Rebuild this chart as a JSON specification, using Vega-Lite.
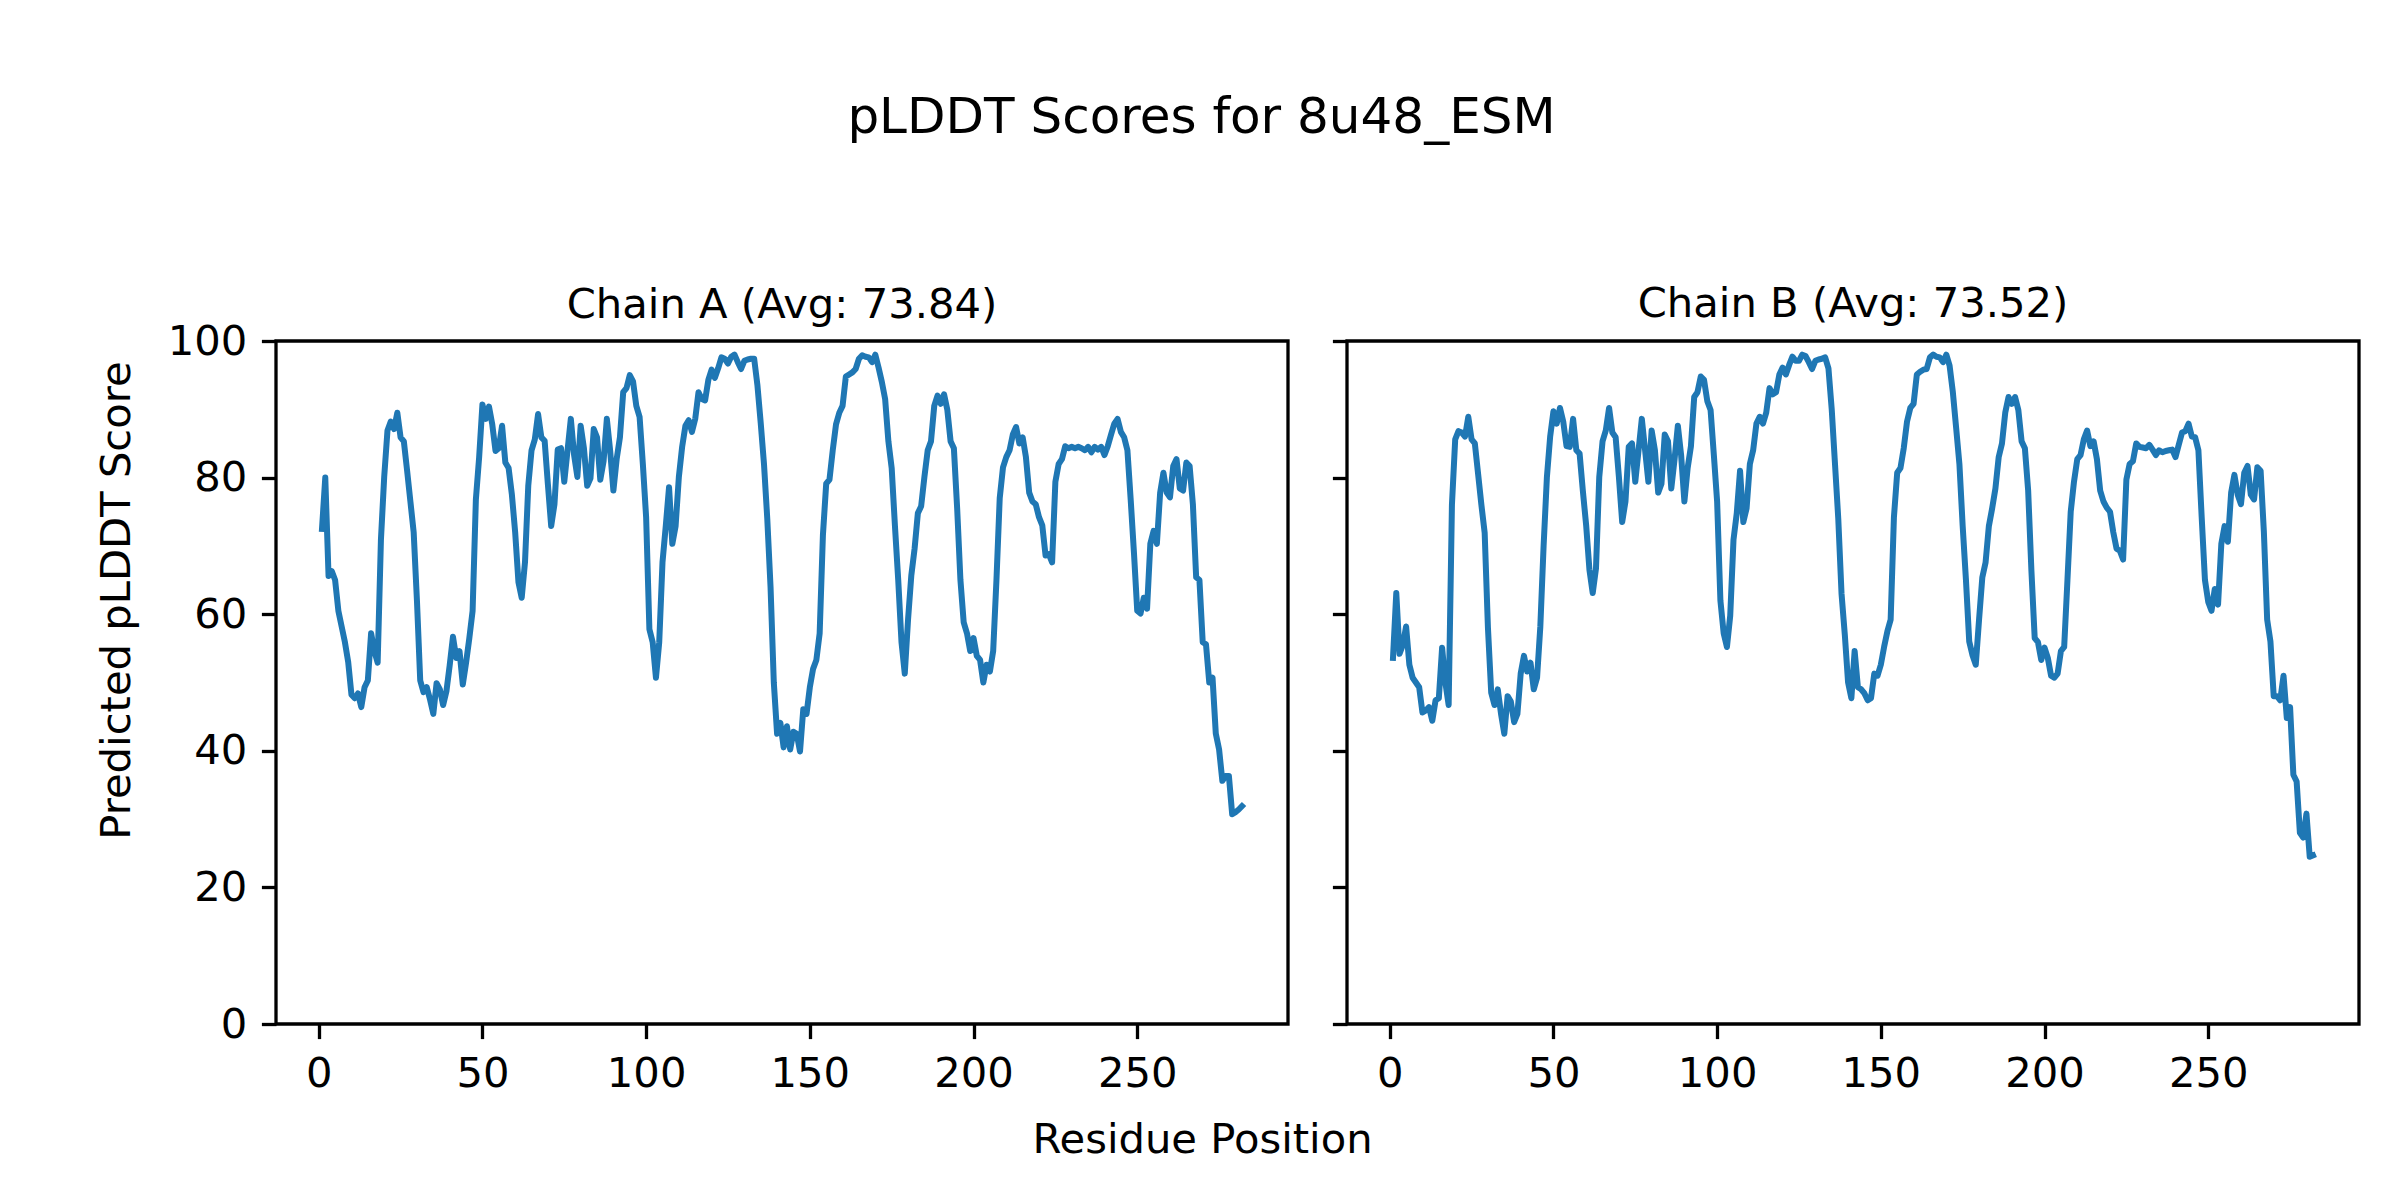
{
  "$schema": "https://vega.github.io/schema/vega-lite/v6.json",
  "background": "white",
  "padding": {"left": 94, "top": 93, "right": 0, "bottom": 0},
  "bounds": "flush",
  "spacing": 59,
  "config": {
    "view": {"stroke": "black", "strokeWidth": 3.3},
    "axis": {"grid": false, "domain": false, "ticks": true, "tickColor": "black", "tickWidth": 3.3, "tickSize": 14.6, "labelFont": "DejaVu Sans", "labelFontSize": 41.7, "labelColor": "black", "labelPadding": 14.6, "titleFont": "DejaVu Sans", "titleFontSize": 41.7, "titleFontWeight": "normal", "titleColor": "black"},
    "title": {"font": "DejaVu Sans", "fontWeight": "normal", "color": "black"}
  },
  "title": {"text": "pLDDT Scores for 8u48_ESM", "fontSize": 50, "anchor": "middle", "baseline": "alphabetic", "offset": 99, "dx": -26},
  "datasets": {
    "chainA": [
{"residue":1,"plddt":72.5},{"residue":2,"plddt":80},{"residue":3,"plddt":65.6},{"residue":4,"plddt":66.3},{"residue":5,"plddt":65.0},{"residue":6,"plddt":60.5},{"residue":7,"plddt":58.2},{"residue":8,"plddt":55.9},{"residue":9,"plddt":53},{"residue":10,"plddt":48.2},
{"residue":11,"plddt":47.7},{"residue":12,"plddt":48.4},{"residue":13,"plddt":46.4},{"residue":14,"plddt":49.3},{"residue":15,"plddt":50.3},{"residue":16,"plddt":57.2},{"residue":17,"plddt":54.6},{"residue":18,"plddt":52.9},{"residue":19,"plddt":70.9},{"residue":20,"plddt":80.1},
{"residue":21,"plddt":86.9},{"residue":22,"plddt":88.2},{"residue":23,"plddt":87.1},{"residue":24,"plddt":89.5},{"residue":25,"plddt":85.9},{"residue":26,"plddt":85.3},{"residue":27,"plddt":81},{"residue":28,"plddt":76.5},{"residue":29,"plddt":72},{"residue":30,"plddt":62},
{"residue":31,"plddt":50.3},{"residue":32,"plddt":48.6},{"residue":33,"plddt":49.3},{"residue":34,"plddt":47.5},{"residue":35,"plddt":45.4},{"residue":36,"plddt":49.9},{"residue":37,"plddt":49.0},{"residue":38,"plddt":46.7},{"residue":39,"plddt":48.7},{"residue":40,"plddt":52.5},
{"residue":41,"plddt":56.7},{"residue":42,"plddt":53.6},{"residue":43,"plddt":54.6},{"residue":44,"plddt":49.7},{"residue":45,"plddt":52.9},{"residue":46,"plddt":56.5},{"residue":47,"plddt":60.5},{"residue":48,"plddt":76.8},{"residue":49,"plddt":83},{"residue":50,"plddt":90.7},
{"residue":51,"plddt":88.6},{"residue":52,"plddt":90.4},{"residue":53,"plddt":87.8},{"residue":54,"plddt":83.9},{"residue":55,"plddt":84.3},{"residue":56,"plddt":87.6},{"residue":57,"plddt":82.2},{"residue":58,"plddt":81.4},{"residue":59,"plddt":77.5},{"residue":60,"plddt":72},
{"residue":61,"plddt":64.7},{"residue":62,"plddt":62.4},{"residue":63,"plddt":67.6},{"residue":64,"plddt":78.8},{"residue":65,"plddt":84},{"residue":66,"plddt":85.6},{"residue":67,"plddt":89.3},{"residue":68,"plddt":85.9},{"residue":69,"plddt":85.4},{"residue":70,"plddt":79},
{"residue":71,"plddt":72.9},{"residue":72,"plddt":76.1},{"residue":73,"plddt":84.1},{"residue":74,"plddt":84.3},{"residue":75,"plddt":79.4},{"residue":76,"plddt":84},{"residue":77,"plddt":88.6},{"residue":78,"plddt":83.3},{"residue":79,"plddt":80.1},{"residue":80,"plddt":87.6},
{"residue":81,"plddt":84.3},{"residue":82,"plddt":78.8},{"residue":83,"plddt":79.9},{"residue":84,"plddt":87.1},{"residue":85,"plddt":85.9},{"residue":86,"plddt":79.7},{"residue":87,"plddt":82.4},{"residue":88,"plddt":88.6},{"residue":89,"plddt":84},{"residue":90,"plddt":78.1},
{"residue":91,"plddt":82.7},{"residue":92,"plddt":85.9},{"residue":93,"plddt":92.5},{"residue":94,"plddt":93.1},{"residue":95,"plddt":95},{"residue":96,"plddt":94.1},{"residue":97,"plddt":90.5},{"residue":98,"plddt":88.9},{"residue":99,"plddt":82},{"residue":100,"plddt":74.2},
{"residue":101,"plddt":57.8},{"residue":102,"plddt":55.9},{"residue":103,"plddt":50.7},{"residue":104,"plddt":55.9},{"residue":105,"plddt":67.6},{"residue":106,"plddt":72.9},{"residue":107,"plddt":78.6},{"residue":108,"plddt":70.3},{"residue":109,"plddt":72.9},{"residue":110,"plddt":80.1},
{"residue":111,"plddt":84.5},{"residue":112,"plddt":87.6},{"residue":113,"plddt":88.4},{"residue":114,"plddt":86.7},{"residue":115,"plddt":88.6},{"residue":116,"plddt":92.5},{"residue":117,"plddt":91.5},{"residue":118,"plddt":91.3},{"residue":119,"plddt":94.3},{"residue":120,"plddt":95.8},
{"residue":121,"plddt":94.6},{"residue":122,"plddt":96},{"residue":123,"plddt":97.6},{"residue":124,"plddt":97.4},{"residue":125,"plddt":96.7},{"residue":126,"plddt":97.7},{"residue":127,"plddt":98},{"residue":128,"plddt":96.9},{"residue":129,"plddt":95.9},{"residue":130,"plddt":97.1},
{"residue":131,"plddt":97.3},{"residue":132,"plddt":97.4},{"residue":133,"plddt":97.4},{"residue":134,"plddt":93.5},{"residue":135,"plddt":88},{"residue":136,"plddt":82},{"residue":137,"plddt":74},{"residue":138,"plddt":64},{"residue":139,"plddt":50},{"residue":140,"plddt":42.5},
{"residue":141,"plddt":44.1},{"residue":142,"plddt":40.5},{"residue":143,"plddt":43.6},{"residue":144,"plddt":40.2},{"residue":145,"plddt":42.8},{"residue":146,"plddt":42.5},{"residue":147,"plddt":39.9},{"residue":148,"plddt":46.1},{"residue":149,"plddt":45.4},{"residue":150,"plddt":49.3},
{"residue":151,"plddt":52},{"residue":152,"plddt":53.3},{"residue":153,"plddt":57.2},{"residue":154,"plddt":71.6},{"residue":155,"plddt":79.1},{"residue":156,"plddt":79.7},{"residue":157,"plddt":84},{"residue":158,"plddt":87.8},{"residue":159,"plddt":89.5},{"residue":160,"plddt":90.5},
{"residue":161,"plddt":94.8},{"residue":162,"plddt":95.1},{"residue":163,"plddt":95.4},{"residue":164,"plddt":95.9},{"residue":165,"plddt":97.4},{"residue":166,"plddt":97.9},{"residue":167,"plddt":97.7},{"residue":168,"plddt":97.6},{"residue":169,"plddt":96.9},{"residue":170,"plddt":98},
{"residue":171,"plddt":96.1},{"residue":172,"plddt":94},{"residue":173,"plddt":91.5},{"residue":174,"plddt":85.3},{"residue":175,"plddt":81.4},{"residue":176,"plddt":72.9},{"residue":177,"plddt":65},{"residue":178,"plddt":55.9},{"residue":179,"plddt":51.3},{"residue":180,"plddt":59.2},
{"residue":181,"plddt":65.7},{"residue":182,"plddt":69.6},{"residue":183,"plddt":74.8},{"residue":184,"plddt":75.8},{"residue":185,"plddt":80.1},{"residue":186,"plddt":84},{"residue":187,"plddt":85.3},{"residue":188,"plddt":90.5},{"residue":189,"plddt":92},{"residue":190,"plddt":90.8},
{"residue":191,"plddt":92.2},{"residue":192,"plddt":89.9},{"residue":193,"plddt":85.3},{"residue":194,"plddt":84.3},{"residue":195,"plddt":75.5},{"residue":196,"plddt":65},{"residue":197,"plddt":58.8},{"residue":198,"plddt":57.2},{"residue":199,"plddt":54.6},{"residue":200,"plddt":56.5},
{"residue":201,"plddt":53.9},{"residue":202,"plddt":53.3},{"residue":203,"plddt":50},{"residue":204,"plddt":52.6},{"residue":205,"plddt":51.6},{"residue":206,"plddt":54.6},{"residue":207,"plddt":65},{"residue":208,"plddt":77},{"residue":209,"plddt":81.5},{"residue":210,"plddt":83},
{"residue":211,"plddt":84},{"residue":212,"plddt":86.3},{"residue":213,"plddt":87.4},{"residue":214,"plddt":85},{"residue":215,"plddt":85.9},{"residue":216,"plddt":83},{"residue":217,"plddt":77.8},{"residue":218,"plddt":76.5},{"residue":219,"plddt":76.1},{"residue":220,"plddt":74.2},
{"residue":221,"plddt":73},{"residue":222,"plddt":68.6},{"residue":223,"plddt":68.8},{"residue":224,"plddt":67.6},{"residue":225,"plddt":79.4},{"residue":226,"plddt":82},{"residue":227,"plddt":82.7},{"residue":228,"plddt":84.6},{"residue":229,"plddt":84.3},{"residue":230,"plddt":84.5},
{"residue":231,"plddt":84.3},{"residue":232,"plddt":84.5},{"residue":233,"plddt":84.3},{"residue":234,"plddt":84},{"residue":235,"plddt":84.5},{"residue":236,"plddt":83.7},{"residue":237,"plddt":84.5},{"residue":238,"plddt":84.1},{"residue":239,"plddt":84.5},{"residue":240,"plddt":83.3},
{"residue":241,"plddt":84.6},{"residue":242,"plddt":86.3},{"residue":243,"plddt":87.9},{"residue":244,"plddt":88.6},{"residue":245,"plddt":86.7},{"residue":246,"plddt":85.9},{"residue":247,"plddt":84},{"residue":248,"plddt":76.8},{"residue":249,"plddt":69},{"residue":250,"plddt":60.5},
{"residue":251,"plddt":60.1},{"residue":252,"plddt":62.4},{"residue":253,"plddt":60.8},{"residue":254,"plddt":70.3},{"residue":255,"plddt":72.2},{"residue":256,"plddt":70.3},{"residue":257,"plddt":77.8},{"residue":258,"plddt":80.7},{"residue":259,"plddt":77.8},{"residue":260,"plddt":77.1},
{"residue":261,"plddt":81.7},{"residue":262,"plddt":82.7},{"residue":263,"plddt":78.4},{"residue":264,"plddt":78.1},{"residue":265,"plddt":82.2},{"residue":266,"plddt":81.7},{"residue":267,"plddt":76.1},{"residue":268,"plddt":65.4},{"residue":269,"plddt":65},{"residue":270,"plddt":55.9},
{"residue":271,"plddt":55.6},{"residue":272,"plddt":50},{"residue":273,"plddt":50.7},{"residue":274,"plddt":42.5},{"residue":275,"plddt":40.2},{"residue":276,"plddt":35.6},{"residue":277,"plddt":36.3},{"residue":278,"plddt":36.3},{"residue":279,"plddt":30.7},{"residue":280,"plddt":31},
{"residue":281,"plddt":31.4},{"residue":282,"plddt":31.9}
    ],
    "chainB": [
{"residue":1,"plddt":53.6},{"residue":2,"plddt":63.1},{"residue":3,"plddt":54.2},{"residue":4,"plddt":55.5},{"residue":5,"plddt":58.2},{"residue":6,"plddt":52.6},{"residue":7,"plddt":50.7},{"residue":8,"plddt":50},{"residue":9,"plddt":49.3},{"residue":10,"plddt":45.6},
{"residue":11,"plddt":45.9},{"residue":12,"plddt":46.4},{"residue":13,"plddt":44.4},{"residue":14,"plddt":47.4},{"residue":15,"plddt":47.7},{"residue":16,"plddt":55.1},{"residue":17,"plddt":50},{"residue":18,"plddt":46.7},{"residue":19,"plddt":76},{"residue":20,"plddt":85.6},
{"residue":21,"plddt":86.8},{"residue":22,"plddt":86.6},{"residue":23,"plddt":86},{"residue":24,"plddt":88.9},{"residue":25,"plddt":85.6},{"residue":26,"plddt":85},{"residue":27,"plddt":80.5},{"residue":28,"plddt":76},{"residue":29,"plddt":71.9},{"residue":30,"plddt":58},
{"residue":31,"plddt":48.5},{"residue":32,"plddt":46.7},{"residue":33,"plddt":49},{"residue":34,"plddt":45.4},{"residue":35,"plddt":42.5},{"residue":36,"plddt":48},{"residue":37,"plddt":47.2},{"residue":38,"plddt":44.2},{"residue":39,"plddt":45.4},{"residue":40,"plddt":51.3},
{"residue":41,"plddt":53.9},{"residue":42,"plddt":51.6},{"residue":43,"plddt":52.9},{"residue":44,"plddt":49},{"residue":45,"plddt":50.7},{"residue":46,"plddt":58.2},{"residue":47,"plddt":70},{"residue":48,"plddt":80},{"residue":49,"plddt":86},{"residue":50,"plddt":89.7},
{"residue":51,"plddt":87.9},{"residue":52,"plddt":90.2},{"residue":53,"plddt":88.2},{"residue":54,"plddt":84.6},{"residue":55,"plddt":84.5},{"residue":56,"plddt":88.6},{"residue":57,"plddt":84},{"residue":58,"plddt":83.5},{"residue":59,"plddt":78},{"residue":60,"plddt":73},
{"residue":61,"plddt":66.5},{"residue":62,"plddt":63.1},{"residue":63,"plddt":66.7},{"residue":64,"plddt":80.1},{"residue":65,"plddt":85.3},{"residue":66,"plddt":86.9},{"residue":67,"plddt":90.2},{"residue":68,"plddt":86.6},{"residue":69,"plddt":85.9},{"residue":70,"plddt":80.1},
{"residue":71,"plddt":73.5},{"residue":72,"plddt":76.5},{"residue":73,"plddt":84.5},{"residue":74,"plddt":85},{"residue":75,"plddt":79.4},{"residue":76,"plddt":84},{"residue":77,"plddt":88.6},{"residue":78,"plddt":84},{"residue":79,"plddt":79.4},{"residue":80,"plddt":86.9},
{"residue":81,"plddt":84},{"residue":82,"plddt":77.8},{"residue":83,"plddt":79.1},{"residue":84,"plddt":86.3},{"residue":85,"plddt":85.3},{"residue":86,"plddt":78.4},{"residue":87,"plddt":82.7},{"residue":88,"plddt":87.6},{"residue":89,"plddt":83.3},{"residue":90,"plddt":76.5},
{"residue":91,"plddt":81.4},{"residue":92,"plddt":84.6},{"residue":93,"plddt":91.8},{"residue":94,"plddt":92.5},{"residue":95,"plddt":94.8},{"residue":96,"plddt":94.3},{"residue":97,"plddt":91.2},{"residue":98,"plddt":89.9},{"residue":99,"plddt":83.3},{"residue":100,"plddt":76.5},
{"residue":101,"plddt":62},{"residue":102,"plddt":57.2},{"residue":103,"plddt":55.2},{"residue":104,"plddt":59.8},{"residue":105,"plddt":70.9},{"residue":106,"plddt":74.8},{"residue":107,"plddt":81},{"residue":108,"plddt":73.5},{"residue":109,"plddt":75.5},{"residue":110,"plddt":82},
{"residue":111,"plddt":84},{"residue":112,"plddt":87.9},{"residue":113,"plddt":88.9},{"residue":114,"plddt":87.9},{"residue":115,"plddt":89.5},{"residue":116,"plddt":93.1},{"residue":117,"plddt":92.2},{"residue":118,"plddt":92.5},{"residue":119,"plddt":95.1},{"residue":120,"plddt":96.1},
{"residue":121,"plddt":95.1},{"residue":122,"plddt":96.5},{"residue":123,"plddt":97.7},{"residue":124,"plddt":97.1},{"residue":125,"plddt":97.1},{"residue":126,"plddt":98},{"residue":127,"plddt":97.8},{"residue":128,"plddt":96.9},{"residue":129,"plddt":95.9},{"residue":130,"plddt":97.1},
{"residue":131,"plddt":97.3},{"residue":132,"plddt":97.4},{"residue":133,"plddt":97.6},{"residue":134,"plddt":96},{"residue":135,"plddt":90},{"residue":136,"plddt":82},{"residue":137,"plddt":74},{"residue":138,"plddt":63},{"residue":139,"plddt":57},{"residue":140,"plddt":50},
{"residue":141,"plddt":47.7},{"residue":142,"plddt":54.6},{"residue":143,"plddt":49.3},{"residue":144,"plddt":49},{"residue":145,"plddt":48.4},{"residue":146,"plddt":47.4},{"residue":147,"plddt":47.7},{"residue":148,"plddt":51.3},{"residue":149,"plddt":51},{"residue":150,"plddt":52.6},
{"residue":151,"plddt":55.2},{"residue":152,"plddt":57.5},{"residue":153,"plddt":59.2},{"residue":154,"plddt":74.2},{"residue":155,"plddt":80.7},{"residue":156,"plddt":81.4},{"residue":157,"plddt":84.3},{"residue":158,"plddt":88.2},{"residue":159,"plddt":90.2},{"residue":160,"plddt":90.8},
{"residue":161,"plddt":95.1},{"residue":162,"plddt":95.5},{"residue":163,"plddt":95.8},{"residue":164,"plddt":95.9},{"residue":165,"plddt":97.6},{"residue":166,"plddt":98},{"residue":167,"plddt":97.7},{"residue":168,"plddt":97.6},{"residue":169,"plddt":96.9},{"residue":170,"plddt":98},
{"residue":171,"plddt":96.4},{"residue":172,"plddt":92.5},{"residue":173,"plddt":87.3},{"residue":174,"plddt":82},{"residue":175,"plddt":72.9},{"residue":176,"plddt":65},{"residue":177,"plddt":56},{"residue":178,"plddt":54},{"residue":179,"plddt":52.6},{"residue":180,"plddt":59.2},
{"residue":181,"plddt":65.4},{"residue":182,"plddt":67.6},{"residue":183,"plddt":72.9},{"residue":184,"plddt":75.5},{"residue":185,"plddt":78.4},{"residue":186,"plddt":83},{"residue":187,"plddt":85},{"residue":188,"plddt":89.5},{"residue":189,"plddt":91.8},{"residue":190,"plddt":90.8},
{"residue":191,"plddt":91.8},{"residue":192,"plddt":89.9},{"residue":193,"plddt":85.3},{"residue":194,"plddt":84.3},{"residue":195,"plddt":78.1},{"residue":196,"plddt":66.3},{"residue":197,"plddt":56.5},{"residue":198,"plddt":55.9},{"residue":199,"plddt":53.3},{"residue":200,"plddt":55.1},
{"residue":201,"plddt":53.6},{"residue":202,"plddt":51},{"residue":203,"plddt":50.7},{"residue":204,"plddt":51.3},{"residue":205,"plddt":54.6},{"residue":206,"plddt":55.2},{"residue":207,"plddt":65},{"residue":208,"plddt":75},{"residue":209,"plddt":79.4},{"residue":210,"plddt":82.7},
{"residue":211,"plddt":83.3},{"residue":212,"plddt":85.6},{"residue":213,"plddt":86.9},{"residue":214,"plddt":84.6},{"residue":215,"plddt":85.3},{"residue":216,"plddt":82.7},{"residue":217,"plddt":78.1},{"residue":218,"plddt":76.5},{"residue":219,"plddt":75.6},{"residue":220,"plddt":75},
{"residue":221,"plddt":72},{"residue":222,"plddt":69.6},{"residue":223,"plddt":69.3},{"residue":224,"plddt":68},{"residue":225,"plddt":79.7},{"residue":226,"plddt":82},{"residue":227,"plddt":82.4},{"residue":228,"plddt":85},{"residue":229,"plddt":84.5},{"residue":230,"plddt":84.4},
{"residue":231,"plddt":84.3},{"residue":232,"plddt":84.8},{"residue":233,"plddt":84.1},{"residue":234,"plddt":83.3},{"residue":235,"plddt":84},{"residue":236,"plddt":83.7},{"residue":237,"plddt":83.9},{"residue":238,"plddt":84},{"residue":239,"plddt":84.1},{"residue":240,"plddt":83},
{"residue":241,"plddt":84.8},{"residue":242,"plddt":86.6},{"residue":243,"plddt":86.8},{"residue":244,"plddt":87.9},{"residue":245,"plddt":86},{"residue":246,"plddt":85.9},{"residue":247,"plddt":84},{"residue":248,"plddt":74.2},{"residue":249,"plddt":65},{"residue":250,"plddt":61.8},
{"residue":251,"plddt":60.5},{"residue":252,"plddt":63.7},{"residue":253,"plddt":61.4},{"residue":254,"plddt":70.3},{"residue":255,"plddt":72.9},{"residue":256,"plddt":70.6},{"residue":257,"plddt":77.8},{"residue":258,"plddt":80.4},{"residue":259,"plddt":77.5},{"residue":260,"plddt":76.1},
{"residue":261,"plddt":80.7},{"residue":262,"plddt":81.7},{"residue":263,"plddt":77.5},{"residue":264,"plddt":76.8},{"residue":265,"plddt":81.5},{"residue":266,"plddt":81},{"residue":267,"plddt":72},{"residue":268,"plddt":59.2},{"residue":269,"plddt":56},{"residue":270,"plddt":48},
{"residue":271,"plddt":48},{"residue":272,"plddt":47.4},{"residue":273,"plddt":51},{"residue":274,"plddt":44.8},{"residue":275,"plddt":46.4},{"residue":276,"plddt":36.5},{"residue":277,"plddt":35.5},{"residue":278,"plddt":28},{"residue":279,"plddt":27.3},{"residue":280,"plddt":30.8},
{"residue":281,"plddt":24.5},{"residue":282,"plddt":24.7}
    ]
  },
  "hconcat": [
    {
      "width": 1012,
      "height": 683,
      "title": {"text": "Chain A (Avg: 73.84)", "fontSize": 41.7, "anchor": "middle", "frame": "group", "baseline": "alphabetic", "offset": 25, "dy": 64},
      "data": {"name": "chainA"},
      "mark": {"type": "line", "color": "#1f77b4", "strokeWidth": 6, "strokeJoin": "round", "strokeCap": "square"},
      "encoding": {
        "x": {"field": "residue", "type": "quantitative", "scale": {"domain": [-13.05, 296.05], "nice": false, "zero": false},
              "axis": {"values": [0, 50, 100, 150, 200, 250], "format": "d", "title": "Residue Position", "titleX": 926, "titleY": 128, "titleBaseline": "alphabetic", "titleAlign": "center"}},
        "y": {"field": "plddt", "type": "quantitative", "scale": {"domain": [0, 100], "nice": false},
              "axis": {"values": [0, 20, 40, 60, 80, 100], "format": "d", "title": "Predicted pLDDT Score", "titleX": -147, "titleY": 259, "titleBaseline": "alphabetic", "titleAngle": 270, "titleAlign": "center"}}
      }
    },
    {
      "width": 1012,
      "height": 683,
      "title": {"text": "Chain B (Avg: 73.52)", "fontSize": 41.7, "anchor": "middle", "frame": "group", "baseline": "alphabetic", "offset": 25, "dy": 44},
      "data": {"name": "chainB"},
      "mark": {"type": "line", "color": "#1f77b4", "strokeWidth": 6, "strokeJoin": "round", "strokeCap": "square"},
      "encoding": {
        "x": {"field": "residue", "type": "quantitative", "scale": {"domain": [-13.05, 296.05], "nice": false, "zero": false},
              "axis": {"values": [0, 50, 100, 150, 200, 250], "format": "d", "title": null}},
        "y": {"field": "plddt", "type": "quantitative", "scale": {"domain": [0, 100], "nice": false},
              "axis": {"values": [0, 20, 40, 60, 80, 100], "labels": false, "title": null}}
      }
    }
  ]
}
